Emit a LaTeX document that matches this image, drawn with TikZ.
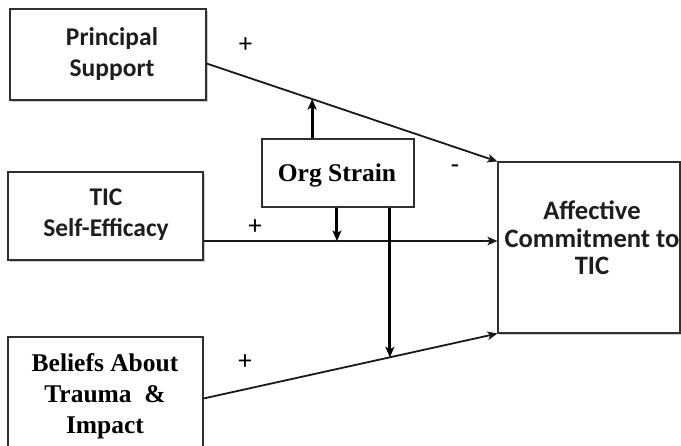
\documentclass[tikz,border=0pt]{standalone}
\usepackage{fontspec}
\setmainfont{Liberation Serif}
\newfontfamily\calib{Carlito}
\newfontfamily\tnr{Liberation Serif}
\usetikzlibrary{arrows.meta,shadows}

\definecolor{boxline}{HTML}{303030}
\definecolor{inktext}{HTML}{1E1E1E}

\tikzset{
  box/.style={draw=boxline, line width=1.1pt, fill=white, inner sep=0pt},
  shadowbox/.style={box, drop shadow={shadow xshift=1.6pt, shadow yshift=-1.8pt, opacity=0.35, fill=black!60}},
  sanslabel/.style={font=\calib\bfseries\fontsize{25.5}{31}\selectfont, text=inktext, align=center, inner sep=0pt},
  seriflabel/.style={font=\tnr\bfseries\fontsize{25.5}{31}\selectfont, text=black, align=center, inner sep=0pt},
  sign/.style={font=\calib\fontsize{27}{30}\selectfont, text=black, inner sep=0pt},
  path arrow/.style={line width=1.8pt, draw=black!90, -{Stealth[length=10pt,width=8.5pt,inset=2.5pt]}},
  mod arrow/.style={line width=3pt, draw=black, -{Stealth[length=10.5pt,width=9pt,inset=2.5pt]}}
}

\begin{document}
\begin{tikzpicture}[x=1pt,y=-1pt]
\useasboundingbox (0,0) rectangle (681,446);
\clip (0,0) rectangle (681,446);
\fill[white] (0,0) rectangle (681,446);

% predictor, moderator and outcome boxes
\node[shadowbox, minimum width=196pt, minimum height=91pt] (prin) at (108,54.5) {};
\node[shadowbox, minimum width=195pt, minimum height=88pt] (tic) at (105.5,216) {};
\node[box, minimum width=195pt, minimum height=123pt] (bel) at (105.5,398.5) {};
\node[box, minimum width=152pt, minimum height=68pt] (org) at (338,173) {};
\node[shadowbox, minimum width=182pt, minimum height=171pt] (aff) at (589,247.5) {};

% box texts
\node[sanslabel] (prinText) at (112,54) {Principal\\Support};
\node[sanslabel] (ticText) at (106,215) {TIC\\Self-Efficacy};
\node[sanslabel, font=\calib\bfseries\fontsize{26.6}{27.5}\selectfont] (affText) at (592,238) {Affective\\Commitment to\\TIC};
\node[seriflabel] (orgText) at (337,175) {Org Strain};
\node[seriflabel] (belText) at (105,396) {Beliefs About\\Trauma\enspace\&\\Impact};

% direct paths to the outcome
\draw[path arrow] ([yshift=-9pt]prin.east) -- (aff.north west)
  coordinate[pos=0.363] (onPrin);
\draw[path arrow] ([yshift=-25pt]tic.east) -- ([yshift=6.5pt]aff.west)
  coordinate[pos=0.454] (onTic);
\draw[path arrow] (bel.east) -- (aff.south west)
  coordinate[pos=0.634] (onBel);

% moderation arrows from Org Strain
\draw[mod arrow] (org.north -| onPrin) -- (onPrin);
\draw[mod arrow] (org.south -| onTic) -- (onTic);
\draw[mod arrow] (org.south -| onBel) -- (onBel);

% signs of the effects
\node[sign] (signPrin) at (245.5,45) {+};
\node[sign] (signOrg) at (455,169) {-};
\node[sign] (signTic) at (255,227) {+};
\node[sign] (signBel) at (245,362) {+};
\end{tikzpicture}
\end{document}
